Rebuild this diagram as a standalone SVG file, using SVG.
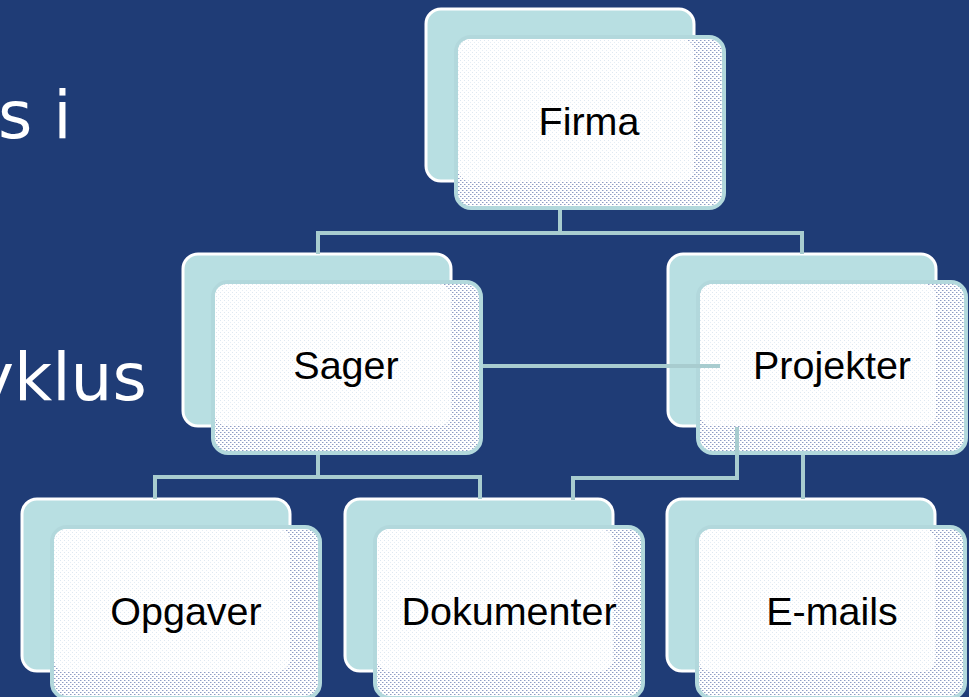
<svg xmlns="http://www.w3.org/2000/svg" width="969" height="697" viewBox="0 0 969 697">
<style>
.bg-text{font-family:"DejaVu Sans",Verdana,sans-serif;font-size:66px;fill:#ffffff}
.back{fill:#b8dfe2;stroke:#ffffff;stroke-width:3}
.front{fill:url(#patDark);stroke:#b2d8dc;stroke-width:4}
.inner{fill:url(#patLight)}
.label{font-family:"Liberation Sans",Arial,sans-serif;font-size:39.5px;fill:#000000;text-anchor:middle}
.conn{fill:none;stroke:#a8cccf;stroke-width:4}
</style>
<defs>
<pattern id="patDark" width="4" height="4" patternUnits="userSpaceOnUse">
<rect width="4" height="4" fill="#ffffff"/>
<rect x="0" y="0" width="1" height="1" fill="#8e9cc4"/>
<rect x="2" y="2" width="1" height="1" fill="#8e9cc4"/>
<rect x="1" y="0" width="1" height="1" fill="#c8d0e4"/>
<rect x="3" y="2" width="1" height="1" fill="#c8d0e4"/>
</pattern>
<pattern id="patLight" width="4" height="4" patternUnits="userSpaceOnUse">
<rect width="4" height="4" fill="#ffffff"/>
<rect x="0" y="0" width="1" height="1" fill="#dfe8f1"/>
<rect x="2" y="2" width="1" height="1" fill="#e6eef5"/>
</pattern>
</defs>
<rect width="969" height="697" fill="#1f3c76"/>
<text class="bg-text" x="-2" y="138">s i</text>
<text class="bg-text" x="-25" y="400">yklus</text>

<g id="firma">
<rect class="back" x="426" y="9" width="268" height="172" rx="15"/>
<rect class="front" x="456" y="37" width="268" height="171" rx="15"/>
<rect class="inner" x="458" y="39" width="236" height="142" rx="12"/>
<text class="label" x="589" y="135">Firma</text>
</g>
<g id="sager">
<rect class="back" x="183" y="254" width="268" height="172" rx="15"/>
<rect class="front" x="213" y="282" width="268" height="171" rx="15"/>
<rect class="inner" x="215" y="284" width="236" height="142" rx="12"/>
<text class="label" x="346" y="379">Sager</text>
</g>
<g id="projekter">
<rect class="back" x="668" y="254" width="268" height="172" rx="15"/>
<rect class="front" x="698" y="282" width="268" height="171" rx="15"/>
<rect class="inner" x="700" y="284" width="236" height="142" rx="12"/>
<text class="label" x="832" y="379">Projekter</text>
</g>
<g id="opgaver">
<rect class="back" x="22" y="499" width="268" height="172" rx="15"/>
<rect class="front" x="52" y="527" width="268" height="171" rx="15"/>
<rect class="inner" x="54" y="529" width="236" height="142" rx="12"/>
<text class="label" x="186" y="625">Opgaver</text>
</g>
<g id="dokumenter">
<rect class="back" x="345" y="499" width="268" height="172" rx="15"/>
<rect class="front" x="375" y="527" width="268" height="171" rx="15"/>
<rect class="inner" x="377" y="529" width="236" height="142" rx="12"/>
<text class="label" x="509" y="625">Dokumenter</text>
</g>
<g id="emails">
<rect class="back" x="667" y="499" width="268" height="172" rx="15"/>
<rect class="front" x="697" y="527" width="268" height="171" rx="15"/>
<rect class="inner" x="699" y="529" width="236" height="142" rx="12"/>
<text class="label" x="832" y="625">E-mails</text>
</g>

<g id="connectors">
<path class="conn" d="M560 210 V233 M318 254 V233 H802 V254"/>
<path class="conn" d="M483 366 H720"/>
<path class="conn" d="M318 455 V477 M155 499 V477 H480 V499"/>
<path class="conn" d="M737 427 V478 H573 V500"/>
<path class="conn" d="M803 455 V499"/>
</g>
</svg>
